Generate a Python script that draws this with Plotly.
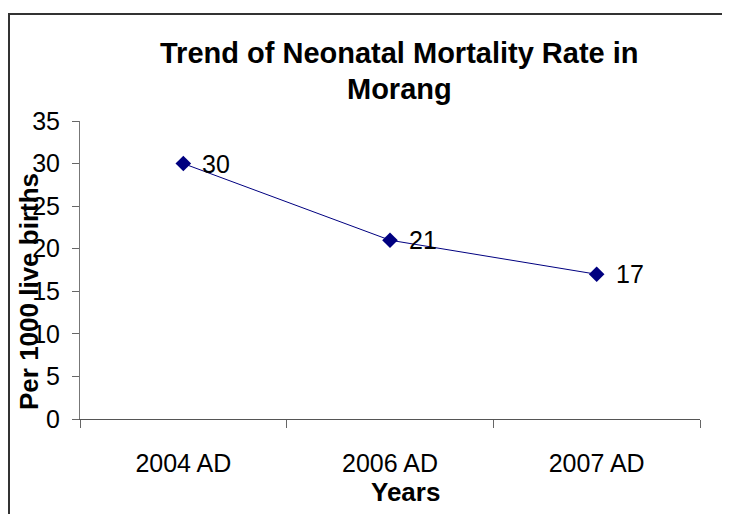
import plotly.graph_objects as go

years = ["2004 AD", "2006 AD", "2007 AD"]
nmr = [30, 21, 17]
y_ticks = [0, 5, 10, 15, 20, 25, 30, 35]

FONT = "Liberation Sans, Arial, sans-serif"
OFF = 8  # page body margin
W, H = 730 - OFF, 514 - OFF
PX0, PX1, PY0, PY1 = 80, 700, 121, 419  # plot area in screenshot pixels
L = PX0 - OFF
R = W - (PX1 - OFF)
T = PY0 - OFF
B = H - (PY1 - OFF)
pw, ph = PX1 - PX0, PY1 - PY0

def px_x(x):
    return (x - PX0) / pw

def px_y(y):
    return (PY1 - y) / ph

fig = go.Figure()
fig.add_trace(go.Scatter(
    x=years, y=nmr, mode="lines+markers",
    line=dict(color="#000080", width=1),
    marker=dict(symbol="diamond", size=12, color="#000080"),
    cliponaxis=False, showlegend=False,
))

annotations = [
    dict(x=c, y=v, xref="x", yref="y", text=str(v), showarrow=False,
         xanchor="left", yanchor="middle", xshift=17, yshift=0,
         font=dict(size=25, family=FONT, color="black"))
    for c, v in zip(years, nmr)
]

def lab(text, x, y, size, angle=0):
    return dict(text=text, xref="paper", yref="paper", x=px_x(x), y=px_y(y),
                xanchor="center", yanchor="middle", showarrow=False,
                textangle=angle, font=dict(size=size, family=FONT, color="black"))

annotations += [
    lab("<b>Trend of Neonatal Mortality Rate in</b>", 399, 53, 29),
    lab("<b>Morang</b>", 399, 89, 29),
    lab("<b>Years</b>", 405, 492, 26),
    lab("<b>Per 1000 live births</b>", 29, 292, 26, -90),
]

fig.update_layout(
    width=W, height=H,
    margin=dict(l=L, r=R, t=T, b=B),
    paper_bgcolor="white", plot_bgcolor="white",
    font=dict(family=FONT, color="black"),
    xaxis=dict(
        type="category", range=[-0.5, 2.5], tickson="boundaries",
        ticks="outside", ticklen=8, tickcolor="#666", tickwidth=1,
        showline=True, linecolor="#555", linewidth=1, showgrid=False,
        tickfont=dict(size=25, family=FONT, color="black"),
        ticklabelstandoff=22, zeroline=False,
    ),
    yaxis=dict(
        range=[0, 35], tickvals=y_ticks, ticks="outside", ticklen=7,
        tickcolor="#666", tickwidth=1, showline=True, linecolor="#777",
        linewidth=1, showgrid=False, zeroline=False,
        tickfont=dict(size=25, family=FONT, color="black"),
        ticklabelstandoff=7,
    ),
    shapes=[dict(
        type="rect", xref="paper", yref="paper",
        x0=px_x(9), x1=px_x(760), y0=px_y(14), y1=px_y(560),
        line=dict(color="#333", width=2), fillcolor="rgba(0,0,0,0)",
        layer="below",
    )],
    annotations=annotations,
)

fig.write_html("out.html")
